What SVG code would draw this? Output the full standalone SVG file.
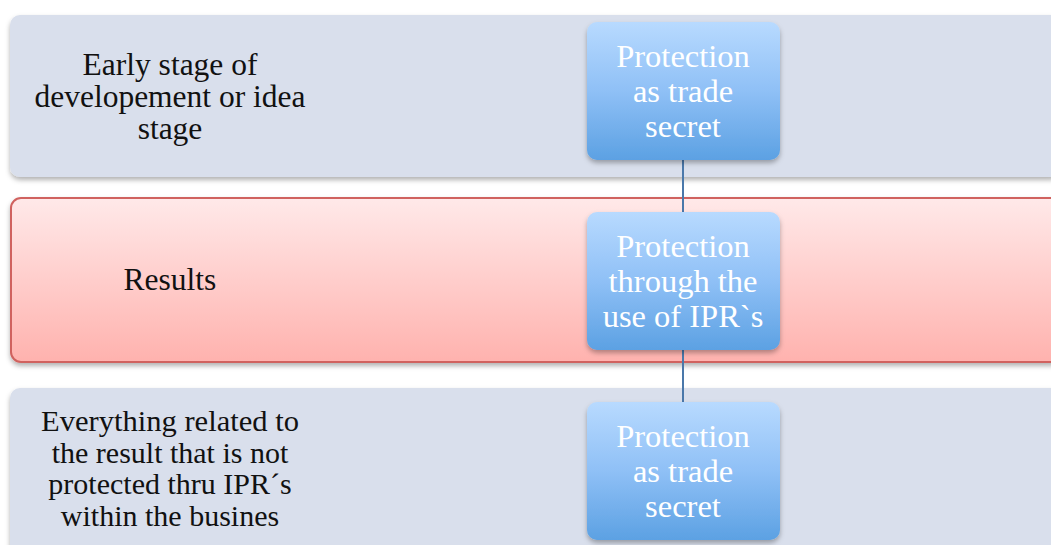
<svg xmlns="http://www.w3.org/2000/svg" width="1051" height="545" viewBox="0 0 1051 545">
  <style>
    .band { fill: #d9dfec; filter: url(#shadow); }
    .band-red { fill: url(#redFill); stroke: #d0625e; stroke-width: 2; filter: url(#shadow); }
    .box { fill: url(#blueFill); filter: url(#shadow); }
    .label { font-family: "Liberation Serif", "DejaVu Serif", serif; font-size: 31.5px; fill: #111111; text-anchor: middle; }
    .label-sm { font-size: 30px; }
    .boxlabel { font-family: "Liberation Serif", "DejaVu Serif", serif; font-size: 32.5px; fill: #ffffff; text-anchor: middle; }
    .link { stroke: #4a78aa; stroke-width: 2; fill: none; }
  </style>
  <defs>
    <linearGradient id="redFill" x1="0" y1="0" x2="0" y2="1">
      <stop offset="0" stop-color="#ffe9e9"/>
      <stop offset="1" stop-color="#ffb2ae"/>
    </linearGradient>
    <linearGradient id="blueFill" x1="0" y1="0" x2="0" y2="1">
      <stop offset="0" stop-color="#b8daff"/>
      <stop offset="0.5" stop-color="#8fc0f6"/>
      <stop offset="1" stop-color="#5ca1e3"/>
    </linearGradient>
    <filter id="shadow" x="-5%" y="-10%" width="110%" height="125%">
      <feDropShadow dx="0" dy="3" stdDeviation="2.5" flood-color="#000000" flood-opacity="0.3"/>
    </filter>
  </defs>

  <rect width="1051" height="545" fill="#ffffff"/>

  <!-- horizontal bands -->
  <g id="band-early">
    <rect class="band" x="10" y="15" width="1051" height="162" rx="10"/>
    <text class="label" x="170" y="75">Early stage of</text>
    <text class="label" x="170" y="107">developement or idea</text>
    <text class="label" x="170" y="139">stage</text>
  </g>
  <g id="band-results">
    <rect class="band-red" x="11" y="198" width="1050" height="164" rx="10"/>
    <text class="label" x="170" y="290">Results</text>
  </g>
  <g id="band-everything">
    <rect class="band" x="10" y="388" width="1051" height="170" rx="10"/>
    <text class="label label-sm" x="170" y="431" textLength="258" lengthAdjust="spacingAndGlyphs">Everything related to</text>
    <text class="label label-sm" x="170" y="462.5">the result that is not</text>
    <text class="label label-sm" x="170" y="494">protected thru IPR´s</text>
    <text class="label label-sm" x="170" y="525.5">within the busines</text>
  </g>

  <!-- vertical connector between the protection boxes -->
  <g id="connectors">
    <line class="link" x1="683" y1="158" x2="683" y2="214"/>
    <line class="link" x1="683" y1="348" x2="683" y2="404"/>
  </g>

  <!-- protection boxes -->
  <g id="box-trade-secret-1">
    <rect class="box" x="587" y="22" width="193" height="138" rx="10"/>
    <text class="boxlabel" x="683" y="67">Protection</text>
    <text class="boxlabel" x="683" y="102">as trade</text>
    <text class="boxlabel" x="683" y="137">secret</text>
  </g>
  <g id="box-ipr">
    <rect class="box" x="587" y="212" width="193" height="138" rx="10"/>
    <text class="boxlabel" x="683" y="257">Protection</text>
    <text class="boxlabel" x="683" y="292">through the</text>
    <text class="boxlabel" x="683" y="327">use of IPR`s</text>
  </g>
  <g id="box-trade-secret-2">
    <rect class="box" x="587" y="402" width="193" height="138" rx="10"/>
    <text class="boxlabel" x="683" y="447">Protection</text>
    <text class="boxlabel" x="683" y="482">as trade</text>
    <text class="boxlabel" x="683" y="517">secret</text>
  </g>
</svg>
